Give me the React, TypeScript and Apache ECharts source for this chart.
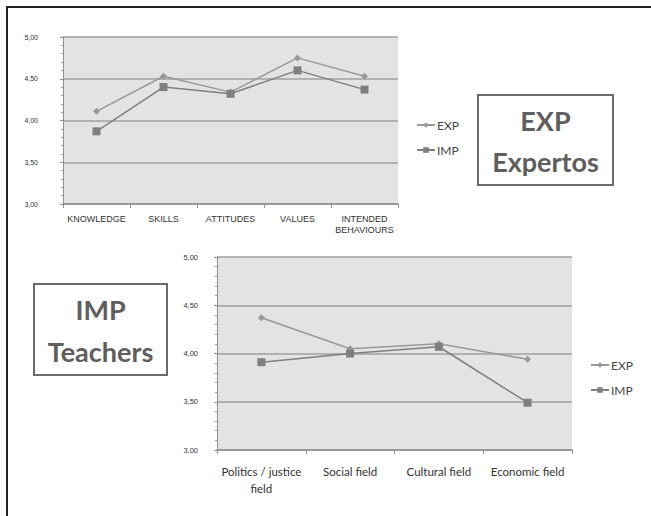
import React, { useEffect, useRef } from "react";
import * as echarts from "echarts";

// Upper panel: dimensions rated by experts (EXP) vs implementation (IMP)
const dimensionCats = ["KNOWLEDGE", "SKILLS", "ATTITUDES", "VALUES", "INTENDED\nBEHAVIOURS"];
const dimensionExp = [4.11, 4.53, 4.34, 4.75, 4.53];
const dimensionImp = [3.87, 4.4, 4.32, 4.6, 4.37];

// Lower panel: fields rated by teachers
const fieldCats = ["Politics / justice\nfield", "Social field", "Cultural field", "Economic field"];
const fieldExp = [4.37, 4.05, 4.1, 3.94];
const fieldImp = [3.91, 4.0, 4.07, 3.49];

const seriesNames = ["EXP", "IMP"];
const boxTopLines = ["EXP", "Expertos"];
const boxBottomLines = ["IMP", "Teachers"];

const fmt = (v: number) => v.toFixed(2).replace(".", ",");

const EXP_COLOR = "#999999";
const IMP_COLOR = "#7f7f7f";
const PLOT_BG = "#e3e3e3";
const GRID_LINE = "#a0a0a0";

function yAxis(gridIndex: number, fontSize: number, margin: number) {
  return {
    type: "value",
    gridIndex,
    min: 3,
    max: 5,
    interval: 0.5,
    splitNumber: 4,
    axisLine: { show: true, lineStyle: { color: "#909090", width: 1 } },
    axisTick: { show: true, length: 3, lineStyle: { color: "#909090" } },
    minorTick: { show: true, splitNumber: 5, length: 2, lineStyle: { color: "#a0a0a0" } },
    splitLine: { show: true, lineStyle: { color: GRID_LINE, width: 1.5 } },
    axisLabel: {
      formatter: fmt,
      fontSize,
      fontFamily: "Liberation Sans",
      color: "#333333",
      margin,
    },
  };
}

function xAxis(gridIndex: number, cats: string[], label: any) {
  return {
    type: "category",
    gridIndex,
    data: cats,
    boundaryGap: true,
    axisLine: { show: true, lineStyle: { color: "#909090", width: 1.5 } },
    axisTick: { show: true, length: 4, alignWithLabel: false, lineStyle: { color: "#909090" } },
    axisLabel: { interval: 0, color: "#333333", ...label },
  };
}

function lineSeries(name: string, data: number[], idx: number, color: string, symbol: string, size: number) {
  return {
    type: "line",
    name,
    data,
    xAxisIndex: idx,
    yAxisIndex: idx,
    symbol,
    symbolSize: size,
    lineStyle: { color, width: 1.5 },
    itemStyle: { color },
  };
}

function titleBox(x: number, y: number, w: number, h: number, lines: string[]) {
  const textStyle = {
    fontFamily: "Lato",
    fontWeight: "bold",
    fontSize: 27,
    fill: "#5e5e5e",
    align: "center",
    verticalAlign: "middle",
  };
  return {
    type: "group",
    children: [
      {
        type: "rect",
        shape: { x, y, width: w, height: h },
        style: { fill: "#ffffff", stroke: "#6a6a6a", lineWidth: 2 },
      },
      { type: "text", x: x + w / 2, y: y + h * 0.28, style: { text: lines[0], ...textStyle } },
      { type: "text", x: x + w / 2, y: y + h * 0.74, style: { text: lines[1], ...textStyle } },
    ],
  };
}

export default function App() {
  const ref = useRef<HTMLDivElement>(null);

  useEffect(() => {
    if (!ref.current) return;
    const chart = echarts.init(ref.current, null, { renderer: "svg" });
    const legendText = { fontFamily: "Lato", fontSize: 12, color: "#444444", padding: [0, 0, 0, -3] };
    chart.setOption({
      animation: false,
      backgroundColor: "#ffffff",
      grid: [
        { left: 63, top: 37, width: 335, height: 167, show: true, backgroundColor: PLOT_BG, borderWidth: 0 },
        { left: 217, top: 257, width: 355, height: 193, show: true, backgroundColor: PLOT_BG, borderWidth: 0 },
      ],
      xAxis: [
        xAxis(0, dimensionCats, { fontSize: 9, fontFamily: "Liberation Sans", margin: 9, lineHeight: 11 }),
        xAxis(1, fieldCats, { fontSize: 11.5, fontFamily: "Lato", margin: 13, lineHeight: 17 }),
      ],
      yAxis: [yAxis(0, 7, 25), yAxis(1, 7.5, 19)],
      legend: [
        {
          orient: "vertical",
          left: 411,
          top: 114,
          itemWidth: 18,
          itemHeight: 7,
          itemGap: 13,
          textStyle: legendText,
          data: seriesNames,
        },
        {
          orient: "vertical",
          left: 585,
          top: 354,
          itemWidth: 18,
          itemHeight: 7,
          itemGap: 13,
          textStyle: legendText,
          data: seriesNames,
        },
      ],
      series: [
        lineSeries("EXP", dimensionExp, 0, EXP_COLOR, "diamond", 7),
        lineSeries("IMP", dimensionImp, 0, IMP_COLOR, "rect", 8),
        lineSeries("EXP", fieldExp, 1, EXP_COLOR, "diamond", 7),
        lineSeries("IMP", fieldImp, 1, IMP_COLOR, "rect", 8),
      ],
      graphic: [
        {
          type: "polyline",
          shape: { points: [[7, 520], [7, 7], [655, 7]] },
          style: { stroke: "#222222", lineWidth: 2, fill: null },
        },
        titleBox(478, 95, 135, 90, boxTopLines),
        titleBox(34, 284, 133, 91, boxBottomLines),
      ],
    });
    return () => chart.dispose();
  }, []);

  return (
    <div
      ref={ref}
      style={{ position: "fixed", left: 0, top: 0, width: 651, height: 516, background: "#fff" }}
    />
  );
}
